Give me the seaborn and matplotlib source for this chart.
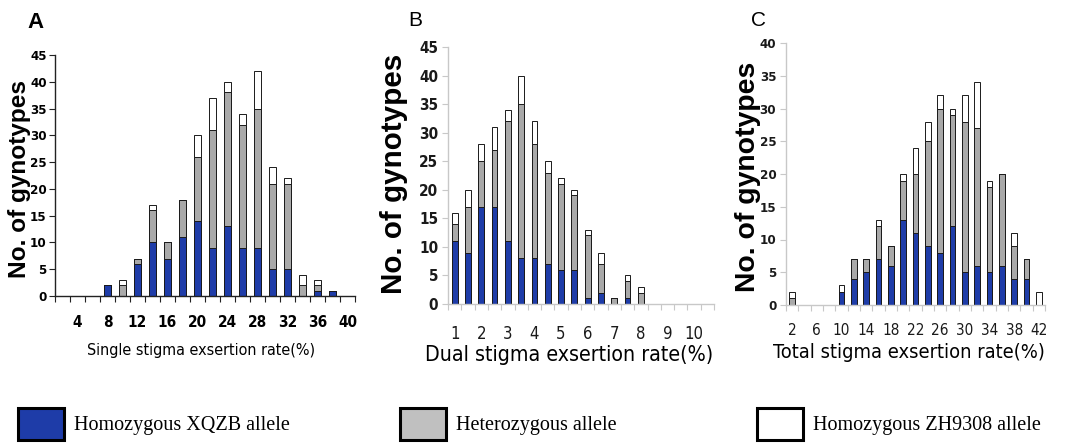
import numpy as np
import pandas as pd
import matplotlib
matplotlib.use("Agg")
import matplotlib.pyplot as plt
from matplotlib.patches import Patch
import seaborn as sns

# ---------------- data ----------------
A_cats = [2, 4, 6, 8, 10, 12, 14, 16, 18, 20, 22, 24, 26, 28, 30, 32, 34, 36, 38, 40]
A_xqzb = [0, 0, 0, 2, 0, 6, 10, 7, 11, 14, 9, 13, 9, 9, 5, 5, 0, 1, 1, 0]
A_het = [0, 0, 0, 0, 2, 1, 6, 3, 7, 12, 22, 25, 23, 26, 16, 16, 2, 1, 0, 0]
A_zh = [0, 0, 0, 0, 1, 0, 1, 0, 0, 4, 6, 2, 2, 7, 3, 1, 2, 1, 0, 0]
A_ticklabels = ["4", "8", "12", "16", "20", "24", "28", "32", "36", "40"]

B_cats = [1, 1.5, 2, 2.5, 3, 3.5, 4, 4.5, 5, 5.5, 6, 6.5, 7, 7.5, 8, 8.5, 9, 9.5, 10, 10.5]
B_xqzb = [11, 9, 17, 17, 11, 8, 8, 7, 6, 6, 1, 2, 0, 1, 0, 0, 0, 0, 0, 0]
B_het = [3, 8, 8, 10, 21, 27, 20, 16, 15, 13, 11, 5, 1, 3, 2, 0, 0, 0, 0, 0]
B_zh = [2, 3, 3, 4, 2, 5, 4, 2, 1, 1, 1, 2, 0, 1, 1, 0, 0, 0, 0, 0]
B_ticklabels = ["1", "2", "3", "4", "5", "6", "7", "8", "9", "10"]

C_cats = [2, 4, 6, 8, 10, 12, 14, 16, 18, 20, 22, 24, 26, 28, 30, 32, 34, 36, 38, 40, 42]
C_xqzb = [0, 0, 0, 0, 2, 4, 5, 7, 6, 13, 11, 9, 8, 12, 5, 6, 5, 6, 4, 4, 0]
C_het = [1, 0, 0, 0, 0, 3, 2, 5, 3, 6, 9, 16, 22, 17, 23, 21, 13, 14, 5, 3, 0]
C_zh = [1, 0, 0, 0, 1, 0, 0, 1, 0, 1, 4, 3, 2, 1, 4, 7, 1, 0, 2, 0, 2]
C_ticklabels = ["2", "6", "10", "14", "18", "22", "26", "30", "34", "38", "42"]

legend_labels = ["Homozygous XQZB allele", "Heterozygous allele", "Homozygous ZH9308 allele"]

# ---------------- style ----------------
W, H = 1077, 443
sns.set_theme(style="white")
plt.rcParams["font.family"] = ["Liberation Sans", "DejaVu Sans"]
plt.rcParams["text.color"] = "black"

BLUE = "#1e3ca8"
GRAY = "#a9a9a9"
EDGE = "#1a1a1a"
COND = dict(family=["DejaVu Sans"], fontstretch="condensed")

fig = plt.figure(figsize=(W / 100, H / 100), dpi=100)
renderer = fig.canvas.get_renderer()


def rect(l, r, bottom_px, top_px):
    return [l / W, (H - bottom_px) / H, (r - l) / W, (bottom_px - top_px) / H]


def fit(text, target_px, vertical=False):
    """Scale a text's font size so its extent matches the target length (px)."""
    for _ in range(3):
        bb = text.get_window_extent(renderer)
        cur = bb.height if vertical else bb.width
        text.set_fontsize(text.get_fontsize() * target_px / cur)


def panel(ax, cats, blue, het, zh, ticklabels, ymax, spine_col, ytick_kw, xtick_kw, xpad, ypad):
    keys = [str(c) for c in cats]
    blue = np.array(blue)
    mid = blue + np.array(het)
    tot = mid + np.array(zh)
    df = pd.DataFrame({"cat": keys, "blue": blue, "mid": mid, "tot": tot})
    for col, colr in (("tot", "white"), ("mid", GRAY), ("blue", BLUE)):
        sns.barplot(data=df, x="cat", y=col, order=keys, color=colr, saturation=1,
                    edgecolor=EDGE, linewidth=0.7, width=0.44, errorbar=None, ax=ax)
    n = len(cats)
    ax.set_xlim(-0.5, n - 0.5)
    ax.set_ylim(0, ymax)
    pos = [keys.index(t) for t in ticklabels]
    ax.set_xticks(pos)
    ax.set_xticklabels(ticklabels, **xtick_kw)
    ax.set_xticks(np.arange(-0.5, n, 1), minor=True)
    ax.tick_params(axis="x", which="major", length=0, pad=xpad)
    ax.tick_params(axis="x", which="minor", bottom=True, length=4, width=0.8,
                   direction="out", color=spine_col)
    ax.set_yticks(np.arange(0, ymax + 1, 5))
    ax.set_yticklabels([str(v) for v in range(0, ymax + 1, 5)], **ytick_kw)
    ax.tick_params(axis="y", left=True, length=4, width=0.8, direction="out",
                   color=spine_col, pad=ypad)
    for s in ("top", "right"):
        ax.spines[s].set_visible(False)
    for s in ("left", "bottom"):
        ax.spines[s].set_color(spine_col)
        ax.spines[s].set_linewidth(1.0)
    ax.set_facecolor("none")


def labels(ax, xlabel, xc, yc, xw, ylab_x, ylab_y, ylen):
    ax.set_xlabel(xlabel, fontsize=16, color="black", **COND)
    ax.xaxis.set_label_coords(xc / W, 1 - yc / H, transform=fig.transFigure)
    ax.xaxis.label.set_va("center")
    fit(ax.xaxis.label, xw)
    ax.set_ylabel("No. of gynotypes", fontsize=18, fontweight="bold", color="black")
    ax.yaxis.set_label_coords(ylab_x / W, 1 - ylab_y / H, transform=fig.transFigure)
    ax.yaxis.label.set_va("center")
    fit(ax.yaxis.label, ylen, vertical=True)


# Panel A
axA = fig.add_axes(rect(55, 355, 296, 55))
panel(axA, A_cats, A_xqzb, A_het, A_zh, A_ticklabels, 45, "#222222",
      dict(fontsize=9.5, fontweight="bold", color="black", **COND),
      dict(fontsize=11, fontweight="bold", color="black", **COND), 14, 2)
labels(axA, "Single stigma exsertion rate(%)", 201, 351, 228, 20, 179, 198)

# Panel B
axB = fig.add_axes(rect(448, 714, 304, 47))
panel(axB, B_cats, B_xqzb, B_het, B_zh, B_ticklabels, 45, "#c8c8c8",
      dict(fontsize=11, fontweight="bold", color="#1a1a1a", **COND),
      dict(fontsize=12, color="#1a1a1a", **COND), 15, 3)
labels(axB, "Dual stigma exsertion rate(%)", 569, 355, 288, 394, 174, 240)

# Panel C
axC = fig.add_axes(rect(786, 1045, 305, 43))
panel(axC, C_cats, C_xqzb, C_het, C_zh, C_ticklabels, 40, "#c8c8c8",
      dict(fontsize=9.5, fontweight="bold", color="#1a1a1a", **COND),
      dict(fontsize=11, color="#1a1a1a", **COND), 13, 3)
labels(axC, "Total stigma exsertion rate(%)", 909, 353, 272, 748, 177, 230)

# Panel letters
fig.text(35 / W, 1 - 22 / H, "A", fontsize=16, fontweight="bold", color="black",
         ha="center", va="center")
fig.text(415 / W, 1 - 21 / H, "B", fontsize=15, color="black", ha="center", va="center")
fig.text(758 / W, 1 - 21 / H, "C", fontsize=15, color="black", ha="center", va="center")

# Legend (three separate entries spread across the bottom)
leg_cols = [BLUE, "#c0c0c0", "white"]
leg_x = [18, 400, 757]
for lab, col, x in zip(legend_labels, leg_cols, leg_x):
    h = Patch(facecolor=col, edgecolor="black", linewidth=2.2)
    lg = fig.legend([h], [lab], loc="center left", bbox_to_anchor=(x / W, 1 - 424 / H),
                    frameon=False, borderpad=0, borderaxespad=0,
                    prop=dict(family=["Liberation Serif", "DejaVu Serif"], size=14.5),
                    handlelength=2.3, handleheight=2.1, handletextpad=0.5)
    for t in lg.get_texts():
        t.set_color("black")

fig.savefig("out.png", dpi=100, facecolor="white")
